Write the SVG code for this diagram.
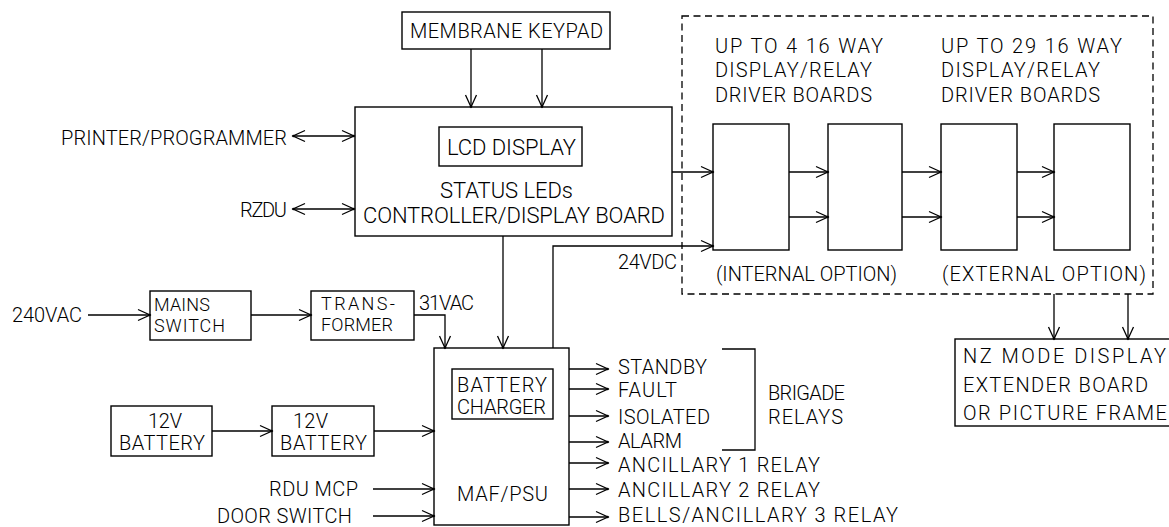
<svg xmlns="http://www.w3.org/2000/svg" width="1169" height="527" viewBox="0 0 1169 527">
<style>
  rect.b { fill: none; stroke: #000; stroke-width: 1.4; }
  .c path { fill: none; stroke: #000; stroke-width: 1.3; }
  .c path.a { marker-end: url(#ah); }
  .c path.d { marker-start: url(#ah); marker-end: url(#ah); }
  text { font-family: Roboto, "Liberation Sans", Arial, sans-serif; font-weight: 300; font-size: 20px; fill: #000; }
  text.l { font-size: 22px; }
  text.s { font-size: 20px; }
  text.t { font-size: 18px; }
</style>
<defs>
  <marker id="ah" viewBox="-14 -8 16 16" markerWidth="16" markerHeight="16" refX="0" refY="0" orient="auto-start-reverse" markerUnits="userSpaceOnUse">
    <path d="M -12 -5.5 L 0 0 L -12 5.5" fill="none" stroke="#000" stroke-width="1.3"/>
    <circle cx="-0.5" cy="0" r="1.3" fill="#000"/>
  </marker>
</defs>
<rect width="1169" height="527" fill="#fff"/>

<g id="keypad">
  <rect class="b" x="402" y="12" width="208" height="37"/>
  <text x="410" y="38" textLength="193" lengthAdjust="spacing">MEMBRANE KEYPAD</text>
</g>

<g id="controller">
  <rect class="b" x="355" y="107" width="317" height="129"/>
  <rect class="b" x="439" y="127" width="143" height="39"/>
  <text class="l" x="447" y="155" textLength="129" lengthAdjust="spacing">LCD DISPLAY</text>
  <text class="l" x="440" y="198" textLength="133" lengthAdjust="spacing">STATUS LEDs</text>
  <text class="l" x="363" y="222.5" textLength="302" lengthAdjust="spacing">CONTROLLER/DISPLAY BOARD</text>
</g>

<g id="printer">
  <text x="61" y="145" textLength="226" lengthAdjust="spacing">PRINTER/PROGRAMMER</text>
</g>
<g id="rzdu">
  <text x="240" y="217" textLength="47" lengthAdjust="spacing">RZDU</text>
</g>

<g id="options">
  <rect x="682" y="16" width="471" height="278" fill="none" stroke="#000" stroke-width="1.3" stroke-dasharray="7 4.5"/>
  <text class="s" x="715" y="53" textLength="168" lengthAdjust="spacing">UP TO 4 16 WAY</text>
  <text class="s" x="715" y="77" textLength="157" lengthAdjust="spacing">DISPLAY/RELAY</text>
  <text class="s" x="715" y="102" textLength="157" lengthAdjust="spacing">DRIVER BOARDS</text>
  <text class="s" x="941" y="53" textLength="181" lengthAdjust="spacing">UP TO 29 16 WAY</text>
  <text class="s" x="941" y="77" textLength="159" lengthAdjust="spacing">DISPLAY/RELAY</text>
  <text class="s" x="941" y="102" textLength="159" lengthAdjust="spacing">DRIVER BOARDS</text>
  <text class="s" x="716" y="281" textLength="181" lengthAdjust="spacing">(INTERNAL OPTION)</text>
  <text class="s" x="942" y="281" textLength="204" lengthAdjust="spacing">(EXTERNAL OPTION)</text>
</g>
<g id="board1"><rect class="b" x="713" y="124" width="76" height="126"/></g>
<g id="board2"><rect class="b" x="828" y="124" width="74" height="126"/></g>
<g id="board3"><rect class="b" x="941" y="124" width="76" height="126"/></g>
<g id="board4"><rect class="b" x="1054" y="124" width="76" height="126"/></g>

<g id="v24dc"><text class="s" x="618" y="269" textLength="59" lengthAdjust="spacing">24VDC</text></g>
<g id="v240ac"><text x="12" y="322" textLength="70" lengthAdjust="spacing">240VAC</text></g>

<g id="mains">
  <rect class="b" x="150" y="291" width="101" height="49"/>
  <text class="t" x="154" y="311" textLength="56" lengthAdjust="spacing">MAINS</text>
  <text class="t" x="154" y="332" textLength="71" lengthAdjust="spacing">SWITCH</text>
</g>
<g id="transformer">
  <rect class="b" x="311" y="291" width="103" height="49"/>
  <text class="t" x="321" y="310" textLength="74" lengthAdjust="spacing">TRANS-</text>
  <text class="t" x="321" y="331" textLength="72" lengthAdjust="spacing">FORMER</text>
</g>
<g id="v31ac"><text class="s" x="419" y="310" textLength="55" lengthAdjust="spacing">31VAC</text></g>

<g id="battery1">
  <rect class="b" x="111" y="406" width="101" height="50"/>
  <text class="s" x="148" y="428" textLength="34" lengthAdjust="spacing">12V</text>
  <text class="s" x="119" y="450" textLength="86" lengthAdjust="spacing">BATTERY</text>
</g>
<g id="battery2">
  <rect class="b" x="272" y="406" width="102" height="50"/>
  <text class="s" x="293" y="428" textLength="35" lengthAdjust="spacing">12V</text>
  <text class="s" x="280" y="450" textLength="87" lengthAdjust="spacing">BATTERY</text>
</g>
<g id="rdumcp"><text class="s" x="269" y="496" textLength="89" lengthAdjust="spacing">RDU MCP</text></g>
<g id="doorswitch"><text class="s" x="217" y="523" textLength="135" lengthAdjust="spacing">DOOR SWITCH</text></g>

<g id="psu">
  <rect class="b" x="434" y="348" width="135" height="177"/>
  <rect class="b" x="452" y="369" width="101" height="50"/>
  <text class="s" x="457" y="392" textLength="90" lengthAdjust="spacing">BATTERY</text>
  <text class="s" x="457" y="414" textLength="89" lengthAdjust="spacing">CHARGER</text>
  <text class="s" x="457" y="501" textLength="91" lengthAdjust="spacing">MAF/PSU</text>
</g>

<g id="outputs">
  <text class="s" x="618" y="374" textLength="89" lengthAdjust="spacing">STANDBY</text>
  <text class="s" x="618" y="397" textLength="59" lengthAdjust="spacing">FAULT</text>
  <text class="s" x="618" y="424" textLength="92" lengthAdjust="spacing">ISOLATED</text>
  <text class="s" x="618" y="448" textLength="64" lengthAdjust="spacing">ALARM</text>
  <text class="s" x="618" y="472" textLength="202" lengthAdjust="spacing">ANCILLARY 1 RELAY</text>
  <text class="s" x="618" y="497" textLength="202" lengthAdjust="spacing">ANCILLARY 2 RELAY</text>
  <text class="s" x="618" y="522" textLength="280" lengthAdjust="spacing">BELLS/ANCILLARY 3 RELAY</text>
</g>
<g id="brigade">
  <text class="s" x="768" y="400" textLength="77" lengthAdjust="spacing">BRIGADE</text>
  <text class="s" x="768" y="424" textLength="75" lengthAdjust="spacing">RELAYS</text>
</g>

<g id="nzmode">
  <rect class="b" x="955" y="339" width="230" height="87"/>
  <text class="s" x="963" y="363" textLength="203" lengthAdjust="spacing">NZ MODE DISPLAY</text>
  <text class="s" x="963" y="392" textLength="185" lengthAdjust="spacing">EXTENDER BOARD</text>
  <text class="s" x="963" y="420" textLength="204" lengthAdjust="spacing">OR PICTURE FRAME</text>
</g>

<g id="connectors" class="c">
  <path class="a" d="M471 49 V107"/>
  <path class="a" d="M542 49 V107"/>
  <path class="d" d="M293 136 H354"/>
  <path class="d" d="M293 209 H354"/>
  <path class="a" d="M672 172 H713"/>
  <path class="a" d="M553 348 V246 H713"/>
  <path class="a" d="M789 172 H828"/>
  <path class="a" d="M789 217 H828"/>
  <path class="a" d="M902 172 H941"/>
  <path class="a" d="M902 217 H941"/>
  <path class="a" d="M1017 172 H1054"/>
  <path class="a" d="M1017 217 H1054"/>
  <path class="a" d="M503 236 V348"/>
  <path class="a" d="M88 315 H150"/>
  <path class="a" d="M251 315 H311"/>
  <path class="a" d="M414 315 H445 V348"/>
  <path class="a" d="M212 431 H272"/>
  <path class="a" d="M374 431 H434"/>
  <path class="a" d="M373 489 H434"/>
  <path class="a" d="M373 516 H434"/>
  <path class="a" d="M569 369 H608"/>
  <path class="a" d="M569 389 H608"/>
  <path class="a" d="M569 416 H608"/>
  <path class="a" d="M569 442 H608"/>
  <path class="a" d="M569 463 H608"/>
  <path class="a" d="M569 489 H608"/>
  <path class="a" d="M569 517 H608"/>
  <path d="M722 349 H755 V450 H722"/>
  <path class="a" d="M1054 294 V339"/>
  <path class="a" d="M1128 294 V339"/>
</g>
</svg>
